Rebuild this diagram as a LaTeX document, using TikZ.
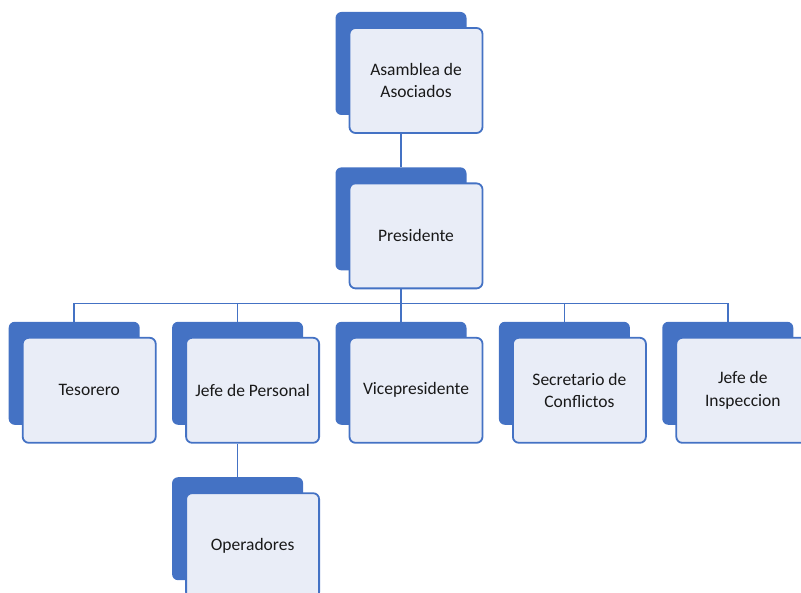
\documentclass[tikz,border=0pt]{standalone}
\usepackage{fontspec}
\setmainfont{Carlito}
\usetikzlibrary{positioning}
\definecolor{orgblue}{HTML}{4472C4}
\definecolor{orgfill}{HTML}{E9EDF7}
\tikzset{
    backbox/.style={rectangle, rounded corners=6pt, fill=orgblue,
        minimum width=131pt, minimum height=103pt, inner sep=0pt},
    frontbox/.style={rectangle, rounded corners=6pt, draw=orgblue, line width=1.8pt,
        fill=orgfill, minimum width=133pt, minimum height=105pt, align=center,
        xshift=15pt, yshift=-17pt, text=black!90, font=\fontsize{17.5}{22.5}\selectfont},
    link/.style={draw=orgblue, line width=1.5pt}
}

\begin{document}
\begin{tikzpicture}[node distance=32pt]

    \useasboundingbox (0,0) rectangle (801pt,-593pt);

    % top of the chart
    \node[backbox] (asab) at (401pt,-63.5pt) {};
    \node[frontbox] (asa) at (asab) {Asamblea de\\Asociados};

    \node[backbox, below=52pt of asab] (presb) {};
    \node[frontbox] (pres) at (presb) {Presidente};

    % second row
    \node[backbox, below=51pt of presb] (vicb) {};
    \node[backbox, left=of vicb] (jefb) {};
    \node[backbox, left=of jefb] (tesb) {};
    \node[backbox, right=of vicb] (secb) {};
    \node[backbox, right=of secb] (insb) {};

    \node[frontbox] (tes) at (tesb) {Tesorero};
    \node[frontbox] (jef) at (jefb) {Jefe de Personal};
    \node[frontbox] (vic) at (vicb) {Vicepresidente};
    \node[frontbox] (sec) at (secb) {Secretario de\\Conflictos};
    \node[frontbox] (ins) at (insb) {Jefe de\\Inspeccion};

    \node[backbox, below=52pt of jefb] (opeb) {};
    \node[frontbox] (ope) at (opeb) {Operadores};

    % connectors
    \draw[link] (asab.south |- asa.south) -- (presb.north);
    \path (presb.south) ++(0,-33pt) coordinate (bus);
    \draw[link] (presb.south |- pres.south) -- (bus);
    \foreach \n in {tesb,jefb,vicb,secb,insb}
        \draw[link] (bus) -| (\n.north);
    \draw[link] (jefb.south |- jef.south) -- (opeb.north);

\end{tikzpicture}
\end{document}
